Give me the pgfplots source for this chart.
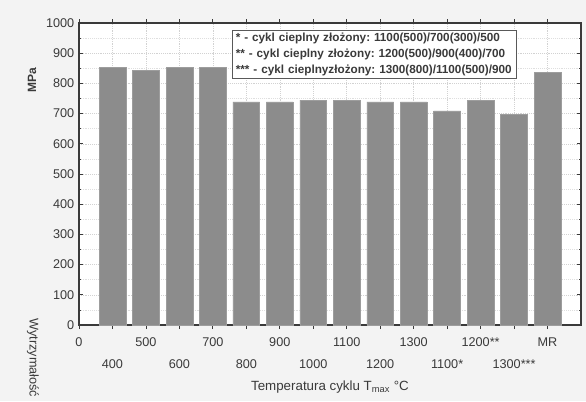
\documentclass[border=0pt]{standalone}
\usepackage{pgfplots}
\pgfplotsset{compat=1.18}
\usepackage{fontspec}
\setmainfont{Liberation Sans}
\definecolor{bg}{HTML}{F3F3F3}
\definecolor{barc}{HTML}{8C8C8C}
\definecolor{txt}{HTML}{3A3A3A}
\begin{document}
\frenchspacing
\begin{tikzpicture}
\useasboundingbox (0,0) rectangle (439.5pt,300.75pt);
\clip (0,0) rectangle (439.5pt,300.75pt);
\fill[bg] (0,0) rectangle (439.5pt,300.75pt);
\begin{axis}[
  at={(59.25pt,57pt)}, anchor=south west,
  scale only axis, width=376.5pt, height=226.5pt,
  axis background/.style={fill=white},
  xmin=0, xmax=15, ymin=0, ymax=1000,
  ytick={0,100,...,1000},
  minor y tick num=1,
  xtick={0,2,...,14},
  xticklabels={0,500,700,900,1100,1300,1200**,MR},
  extra x ticks={1,3,...,13},
  extra x tick labels={400,600,800,1000,1200,1100*,1300***},
  extra x tick style={xticklabel style={yshift=-16.5pt}},
  xticklabel style={yshift=-3pt},
  tick align=inside, tick pos=both,
  major tick length=3pt, minor tick length=1.8pt,
  grid=both,
  major grid style={densely dotted, gray!35},
  minor grid style={densely dotted, gray!25},
  axis line style={txt, line width=1pt},
  tick style={txt, line width=0.6pt},
  ticklabel style={font=\fontsize{9.5}{11}\selectfont, text=txt},
  /pgf/number format/assume math mode=true,
  /pgf/number format/1000 sep={},
  ybar, bar width=0.8,
]
\addplot[fill=barc, draw=barc!85!white, line width=0.4pt] coordinates {
(1,853) (2,844) (3,853) (4,853) (5,739) (6,739) (7,745)
(8,745) (9,739) (10,739) (11,709) (12,745) (13,698) (14,837)};
\end{axis}
\node[draw=gray!70!black, fill=white, line width=0.8pt, anchor=north west, align=left,
  inner xsep=2.5pt, inner ysep=2pt, text width=208pt,
  font=\fontsize{8.8}{12}\selectfont\bfseries, text=txt] at (174pt,278.25pt)
  {{*} - cykl cieplny złożony: 1100(500)/700(300)/500\\
   {**} - cykl cieplny złożony: 1200(500)/900(400)/700\\
   {***} - cykl cieplnyzłożony: 1300(800)/1100(500)/900};
\node[font=\fontsize{10}{12}\selectfont, text=txt] at (247.5pt,10.5pt) {Temperatura cyklu T\textsubscript{max} °C};
\node[rotate=90, font=\fontsize{9}{11}\selectfont\bfseries, text=txt] at (24pt,240.75pt) {MPa};
\node[rotate=-90, anchor=west, inner sep=1pt, font=\fontsize{9.5}{11}\selectfont, text=txt] at (24.75pt,63pt) {Wytrzymałość};
\end{tikzpicture}
\end{document}
